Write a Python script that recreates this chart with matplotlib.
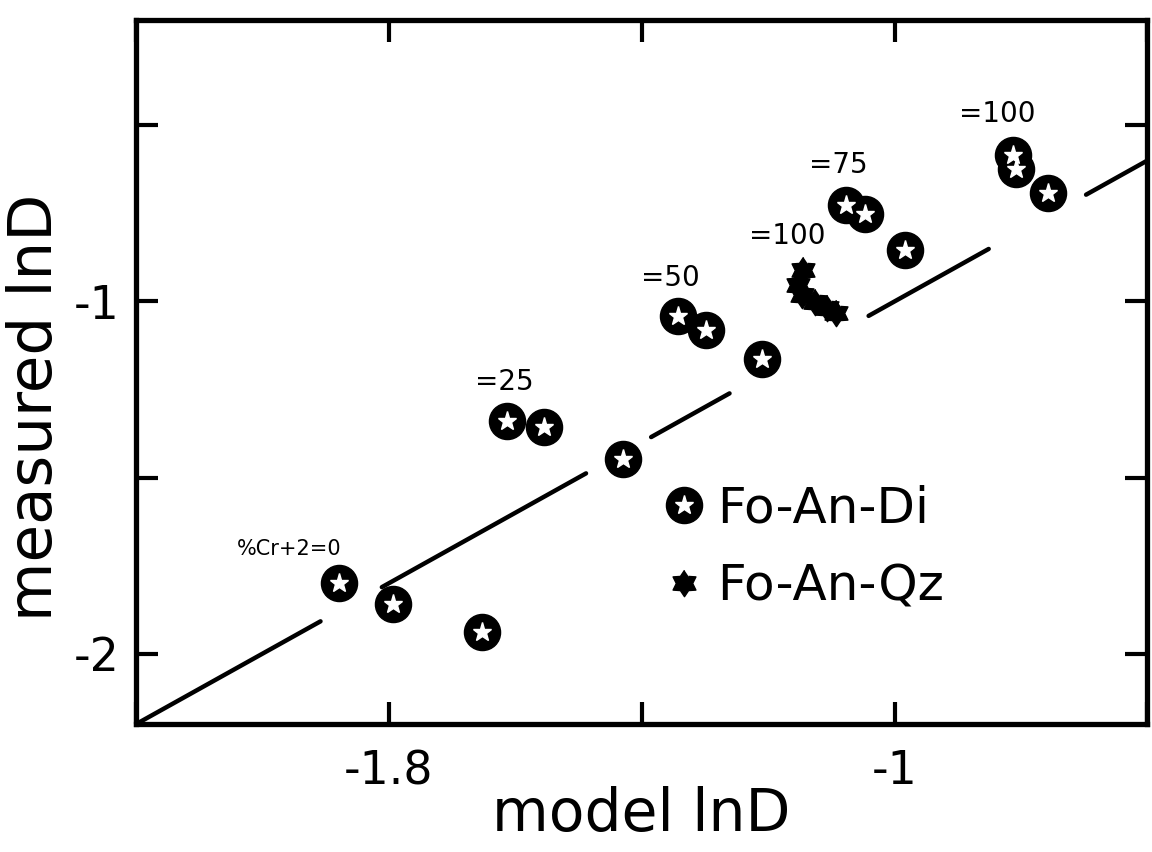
import numpy as np
import matplotlib.pyplot as plt
from matplotlib.path import Path
from matplotlib.lines import Line2D
from matplotlib.legend_handler import HandlerTuple

plt.rcParams['font.family'] = ['DejaVu Sans']

# Fo-An-Di runs (model lnD, measured lnD)
di_model = [-1.879, -1.794, -1.653, -1.613, -1.554, -1.429, -1.342, -1.298,
            -1.210, -1.077, -1.047, -0.984, -0.813, -0.808, -0.757]
di_meas = [-1.799, -1.859, -1.938, -1.339, -1.356, -1.446, -1.042, -1.082,
           -1.164, -0.726, -0.751, -0.853, -0.585, -0.625, -0.692]

# Fo-An-Qz runs
qz_model = [-1.144, -1.153, -1.147, -1.126, -1.107, -1.092]
qz_meas = [-0.912, -0.952, -0.983, -1.003, -1.020, -1.034]

# %Cr+2 labels and the point each one sits above
cr_labels = ['%Cr+2=0', '=25', '=50', '=75', '=100']
cr_label_idx = [0, 3, 6, 9, 12]
qz_label = '=100'

# pieces of the 1:1 line (x ranges)
line_pieces = [(-2.2, -1.908), (-1.811, -1.488), (-1.385, -1.261),
               (-1.041, -0.851), (-0.697, -0.6)]

x_ticks = [-2.2, -1.8, -1.4, -1.0, -0.6]
x_ticklabels = ['', '-1.8', '', '-1', '']
y_ticks = [-2.0, -1.5, -1.0, -0.5]
y_ticklabels = ['-2', '', '-1', '']

# six pointed star marker
ang = np.pi / 2 + np.arange(12) * np.pi / 6
rad = np.where(np.arange(12) % 2 == 0, 1.0, 0.62)
star6 = Path(np.column_stack([rad * np.cos(ang), rad * np.sin(ang)]))

fig = plt.figure(figsize=(11.52, 8.52), dpi=100)
ax = fig.add_axes([0.118, 0.150, 0.878, 0.827])

for a, b in line_pieces:
    ax.plot([a, b], [a, b], color='black', lw=3.2, solid_capstyle='round')

ax.plot(di_model, di_meas, 'o', ms=26, color='black', mec='black')
ax.plot(di_model, di_meas, '*', ms=14, color='white', mec='white')
ax.plot(qz_model, qz_meas, marker=star6, ls='none', ms=19, color='black')

offsets = [(-50, 34), (-3, 39), (-8, 38), (-8, 40), (-15, 41)]
sizes = [15, 20, 20, 20, 20]
for lab, i, off, fs in zip(cr_labels, cr_label_idx, offsets, sizes):
    ax.annotate(lab, (di_model[i], di_meas[i]), xytext=off,
                textcoords='offset pixels', ha='center', va='center',
                fontsize=fs)
ax.annotate(qz_label, (qz_model[0], qz_meas[0]), xytext=(-16, 34),
            textcoords='offset pixels', ha='center', va='center', fontsize=20)

# legend handles
h_circ = Line2D([], [], marker='o', ls='none', ms=26, color='black')
h_star = Line2D([], [], marker='*', ls='none', ms=14, color='white', mec='white')
h_qz = Line2D([], [], marker=star6, ls='none', ms=19, color='black')
ax.legend([(h_circ, h_star), h_qz], ['Fo-An-Di', 'Fo-An-Qz'],
          handler_map={tuple: HandlerTuple(ndivide=1)},
          loc='upper left', bbox_to_anchor=(0.525, 0.34), frameon=False,
          fontsize=36, handlelength=0.7, handletextpad=0.3,
          labelspacing=0.6, borderpad=0, borderaxespad=0)

ax.set_xlim(-2.2, -0.6)
ax.set_ylim(-2.2, -0.2)
ax.set_xticks(x_ticks)
ax.set_xticklabels(x_ticklabels)
ax.set_yticks(y_ticks)
ax.set_yticklabels(y_ticklabels)
ax.tick_params(direction='in', length=16, width=3, top=True, right=True,
               labelsize=33)
ax.tick_params(axis='x', pad=18)
ax.tick_params(axis='y', pad=12)
for s in ax.spines.values():
    s.set_linewidth(3.8)

ax.set_xlabel('model lnD', fontsize=42, labelpad=-6)
ax.set_ylabel('measured lnD', fontsize=44)
ax.yaxis.set_label_coords(-0.07, 0.45)

fig.savefig('out.png', dpi=100)
